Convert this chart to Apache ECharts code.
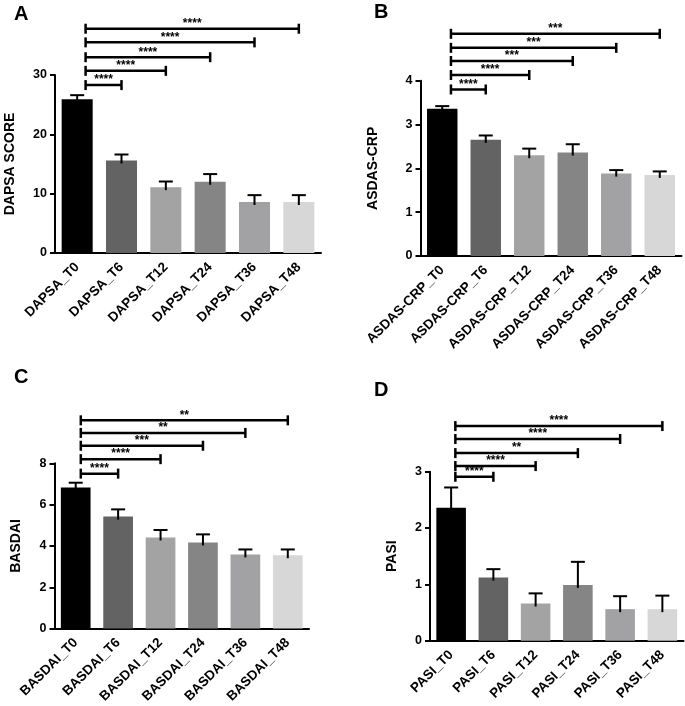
<!DOCTYPE html>
<html>
<head>
<meta charset="utf-8">
<script src="https://cdn.jsdelivr.net/npm/echarts@6/dist/echarts.min.js"></script>
<style>
  html, body { margin: 0; padding: 0; background: #fff; }
  #chart { width: 685px; height: 706px; }
</style>
</head>
<body>
<div id="chart"></div>
<script>
// 4 panels, bars + upper SEM + significance brackets
const barColors = ['#000000', '#636363', '#a3a3a3', '#858585', '#a2a2a5', '#d7d7d7'];

// A - DAPSA
const catsA = ['DAPSA_T0', 'DAPSA_T6', 'DAPSA_T12', 'DAPSA_T24', 'DAPSA_T36', 'DAPSA_T48'];
const meanA = [25.9, 15.6, 11.1, 12.0, 8.6, 8.6];
const upperA = [26.6, 16.6, 12.05, 13.3, 9.75, 9.75];
const targetsA = [1, 2, 3, 4, 5];
const levelsA = [28.3, 30.7, 33.0, 35.5, 37.8];
const starsA = ['****', '****', '****', '****', '****'];

// B - ASDAS-CRP
const catsB = ['ASDAS-CRP_T0', 'ASDAS-CRP_T6', 'ASDAS-CRP_T12', 'ASDAS-CRP_T24', 'ASDAS-CRP_T36', 'ASDAS-CRP_T48'];
const meanB = [3.36, 2.65, 2.30, 2.36, 1.88, 1.85];
const upperB = [3.42, 2.75, 2.45, 2.55, 1.96, 1.93];
const targetsB = [1, 2, 3, 4, 5];
const levelsB = [3.80, 4.13, 4.45, 4.75, 5.07];
const starsB = ['****', '****', '***', '***', '***'];

// C - BASDAI
const catsC = ['BASDAI_T0', 'BASDAI_T6', 'BASDAI_T12', 'BASDAI_T24', 'BASDAI_T36', 'BASDAI_T48'];
const meanC = [6.83, 5.42, 4.41, 4.17, 3.59, 3.55];
const upperC = [7.06, 5.77, 4.77, 4.56, 3.83, 3.83];
const targetsC = [1, 2, 3, 4, 5];
const levelsC = [7.50, 8.20, 8.85, 9.47, 10.08];
const starsC = ['****', '****', '***', '**', '**'];

// D - PASI
const catsD = ['PASI_T0', 'PASI_T6', 'PASI_T12', 'PASI_T24', 'PASI_T36', 'PASI_T48'];
const meanD = [2.36, 1.12, 0.66, 0.99, 0.56, 0.56];
const upperD = [2.72, 1.27, 0.84, 1.40, 0.79, 0.80];
const targetsD = [1, 2, 3, 4, 5];
const levelsD = [2.91, 3.10, 3.33, 3.58, 3.81];
const starsD = ['****', '****', '**', '****', '****'];

const FONT = 'Liberation Sans, Arial, Helvetica, sans-serif';

const panels = [
  { letter: 'A', cats: catsA, mean: meanA, upper: upperA, targets: targetsA, levels: levelsA, stars: starsA,
    name: 'DAPSA SCORE', max: 30, interval: 10, nameGap: 38, leftOff: 0.19,
    grid: { left: 55, top: 75, width: 266, height: 178 }, letterPos: [14, 4] },
  { letter: 'B', cats: catsB, mean: meanB, upper: upperB, targets: targetsB, levels: levelsB, stars: starsB,
    name: 'ASDAS-CRP', max: 4, interval: 1, nameGap: 40, leftOff: 0.2,
    grid: { left: 420.5, top: 80.7, width: 261, height: 175.3 }, letterPos: [374, 2] },
  { letter: 'C', cats: catsC, mean: meanC, upper: upperC, targets: targetsC, levels: levelsC, stars: starsC,
    name: 'BASDAI', max: 8, interval: 2, nameGap: 31, leftOff: 0.12,
    grid: { left: 54.5, top: 463.3, width: 254.5, height: 170.7 }, letterPos: [14, 367] },
  { letter: 'D', cats: catsD, mean: meanD, upper: upperD, targets: targetsD, levels: levelsD, stars: starsD,
    name: 'PASI', max: 3, interval: 1, nameGap: 31, leftOff: 0.1,
    grid: { left: 430, top: 471.7, width: 253.5, height: 169 }, letterPos: [374, 380] }
];

const grids = [], xAxes = [], yAxes = [], series = [], graphics = [];

panels.forEach(function (p, i) {
  grids.push(p.grid);
  xAxes.push({
    type: 'category', gridIndex: i, data: p.cats,
    axisLine: { lineStyle: { color: '#000', width: 2 } },
    axisTick: { alignWithLabel: true, length: 6, lineStyle: { color: '#000', width: 2 } },
    axisLabel: { rotate: 45, margin: 12, color: '#000', fontWeight: 'bold', fontSize: 13.5, fontFamily: FONT, interval: 0 }
  });
  yAxes.push({
    type: 'value', gridIndex: i, min: 0, max: p.max, interval: p.interval,
    name: p.name, nameLocation: 'middle', nameGap: p.nameGap,
    nameTextStyle: { color: '#000', fontWeight: 'bold', fontSize: 14, fontFamily: FONT },
    splitLine: { show: false },
    axisLine: { show: true, lineStyle: { color: '#000', width: 2 } },
    axisTick: { show: true, length: 5, lineStyle: { color: '#000', width: 2 } },
    axisLabel: { margin: 8, color: '#000', fontWeight: 'bold', fontSize: 12.5, fontFamily: FONT }
  });
  series.push({
    type: 'bar', xAxisIndex: i, yAxisIndex: i, barWidth: '70%',
    data: p.mean.map(function (v, k) { return { value: v, itemStyle: { color: barColors[k] } }; })
  });
  // error bars (upper only)
  series.push({
    type: 'custom', xAxisIndex: i, yAxisIndex: i, clip: false, z: 5,
    data: p.mean.map(function (v, k) { return [k, v, p.upper[k]]; }),
    encode: { x: 0, y: 2 },
    renderItem: function (params, api) {
      const a = api.coord([api.value(0), api.value(1)]);
      const b = api.coord([api.value(0), api.value(2)]);
      const st = { stroke: '#000', lineWidth: 2 };
      return { type: 'group', children: [
        { type: 'line', shape: { x1: a[0], y1: a[1] + 3, x2: b[0], y2: b[1] }, style: st },
        { type: 'line', shape: { x1: b[0] - 7, y1: b[1], x2: b[0] + 7, y2: b[1] }, style: st }
      ] };
    }
  });
  // significance brackets from T0
  series.push({
    type: 'custom', xAxisIndex: i, yAxisIndex: i, clip: false, z: 6,
    data: p.targets.map(function (t, k) { return [0, t, p.levels[k]]; }),
    encode: { x: 1, y: 2 },
    renderItem: function (params, api) {
      const band = api.size([1, 0])[0];
      const a = api.coord([api.value(0), api.value(2)]);
      const b = api.coord([api.value(1), api.value(2)]);
      const x1 = a[0] + p.leftOff * band, x2 = b[0], y = a[1];
      const st = { stroke: '#000', lineWidth: 2.5 };
      return { type: 'group', children: [
        { type: 'line', shape: { x1: x1, y1: y, x2: x2, y2: y }, style: st },
        { type: 'line', shape: { x1: x1, y1: y - 5, x2: x1, y2: y + 5 }, style: st },
        { type: 'line', shape: { x1: x2, y1: y - 5, x2: x2, y2: y + 5 }, style: st },
        { type: 'text', style: { text: p.stars[params.dataIndex], x: (x1 + x2) / 2, y: y + 1,
          align: 'center', verticalAlign: 'bottom', fill: '#000',
          fontSize: 12, fontWeight: 'bold', fontFamily: FONT } }
      ] };
    }
  });
  graphics.push({
    type: 'text', left: p.letterPos[0], top: p.letterPos[1],
    style: { text: p.letter, fill: '#000', fontSize: 20, fontWeight: 'bold', fontFamily: FONT }
  });
});

const chart = echarts.init(document.getElementById('chart'));
chart.setOption({
  backgroundColor: '#fff',
  animation: false,
  grid: grids,
  xAxis: xAxes,
  yAxis: yAxes,
  series: series,
  graphic: graphics
});
</script>
</body>
</html>
